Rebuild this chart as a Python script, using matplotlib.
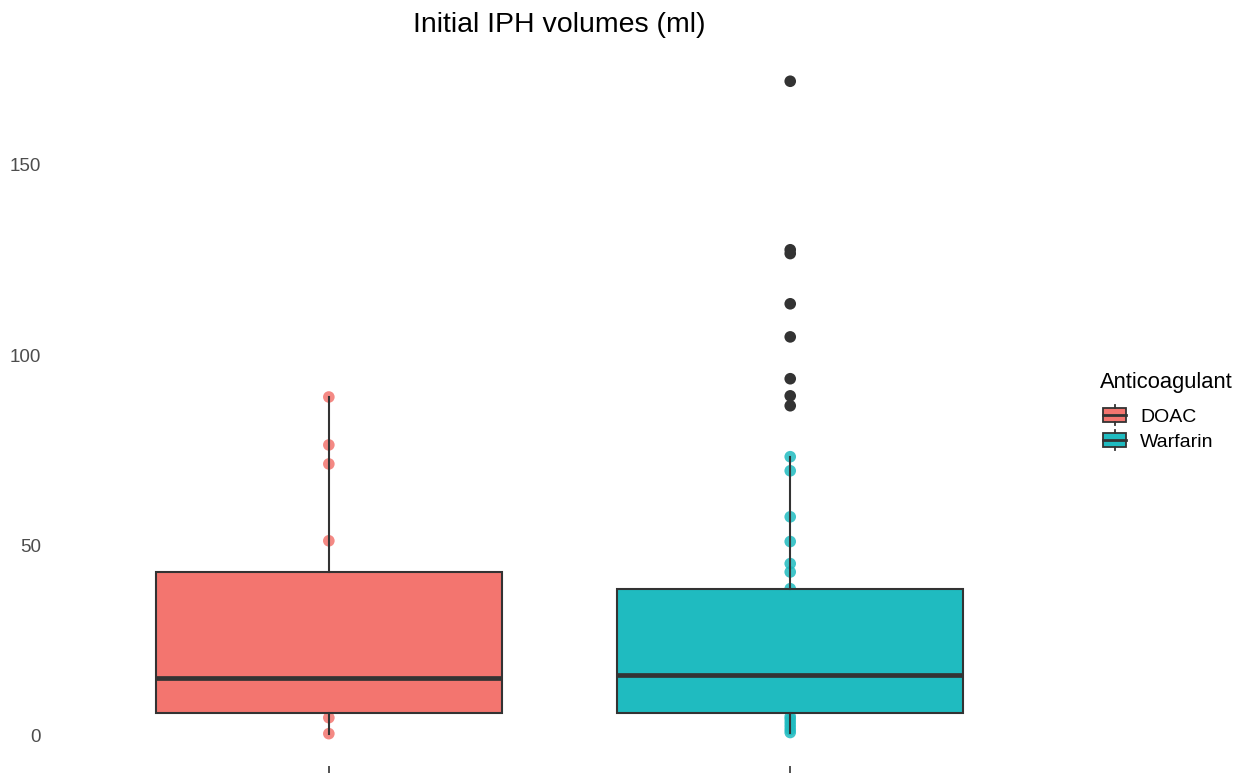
import matplotlib
matplotlib.use("Agg")
import matplotlib.pyplot as plt
from matplotlib.patches import Rectangle
from matplotlib.lines import Line2D
from matplotlib.legend_handler import HandlerBase

# данные
groups = ["DOAC", "Warfarin"]
colors = ["#F3756F", "#1FBBC0"]

doac_points = [0.5, 4.7, 51.2, 71.4, 76.4, 89.0]
warfarin_points = [0.8, 1.6, 2.5, 3.4, 4.3, 5.0, 38.6, 43.0, 45.2, 51.0, 57.5, 69.6, 73.3]
warfarin_outliers = [86.7, 89.3, 93.8, 104.8, 113.5, 126.7, 127.7, 172.0]

# статистика боксов: q1, медиана, q3, нижний и верхний ус
doac_box = dict(q1=6.0, med=15.0, q3=43.1, whislo=0.5, whishi=89.0)
warfarin_box = dict(q1=6.0, med=15.8, q3=38.4, whislo=0.8, whishi=73.3)

line_col = "#333333"


class BoxHandler(HandlerBase):
    # значок легенды в виде маленького бокса
    def create_artists(self, legend, orig_handle, xdescent, ydescent,
                       width, height, fontsize, trans):
        fc = orig_handle.get_facecolor()
        cx = width / 2 - xdescent
        w = width * 0.8
        h = height * 0.7
        y0 = (height - h) / 2 - ydescent
        rect = Rectangle((cx - w / 2, y0), w, h, facecolor=fc,
                         edgecolor=line_col, lw=1.3, transform=trans)
        med = Line2D([cx - w / 2, cx + w / 2], [y0 + h / 2] * 2,
                     color=line_col, lw=2.0, transform=trans)
        top = Line2D([cx, cx], [y0 + h, y0 + h + height * 0.15],
                     color=line_col, lw=1.3, transform=trans)
        bot = Line2D([cx, cx], [y0, y0 - height * 0.15],
                     color=line_col, lw=1.3, transform=trans)
        return [rect, med, top, bot]


def main():
    plt.rcParams['font.family'] = ['Liberation Sans', 'DejaVu Sans']

    fig = plt.figure(figsize=(12.47, 7.79), dpi=100)
    ax = fig.add_axes([0.0417, 0.0167, 0.814, 0.921])

    # сначала точки (под боксами)
    ax.scatter([1] * len(doac_points), doac_points, s=70, color=colors[0],
               alpha=0.85, edgecolors='none', zorder=1)
    ax.scatter([2] * len(warfarin_points), warfarin_points, s=70, color=colors[1],
               alpha=0.85, edgecolors='none', zorder=1)

    stats = [doac_box, warfarin_box]
    bp = ax.bxp(stats, positions=[1, 2], widths=0.75, patch_artist=True,
                showfliers=False, showcaps=False,
                boxprops=dict(edgecolor=line_col, linewidth=1.5),
                whiskerprops=dict(color=line_col, linewidth=1.5),
                medianprops=dict(color=line_col, linewidth=3.4),
                zorder=2)
    for patch, c in zip(bp['boxes'], colors):
        patch.set_facecolor(c)

    # выбросы
    ax.scatter([2] * len(warfarin_outliers), warfarin_outliers, s=70,
               color=line_col, edgecolors='none', zorder=3)

    ax.set_xlim(0.4, 2.6)
    ax.set_ylim(-8, 180.6)
    ax.set_yticks([0, 50, 100, 150])
    ax.set_xticks([1, 2])
    ax.set_xticklabels(["", ""])
    ax.tick_params(axis='y', length=0, labelsize=13.5, labelcolor='#4D4D4D', pad=8)
    ax.tick_params(axis='x', length=5, width=1.2, color=line_col)
    for s in ax.spines.values():
        s.set_visible(False)

    ax.set_title("Initial IPH volumes (ml)", fontsize=20.5, pad=12)

    handles = [Rectangle((0, 0), 1, 1, facecolor=c) for c in colors]
    leg = fig.legend(handles, groups, title="Anticoagulant",
                     handler_map={Rectangle: BoxHandler()},
                     loc='center left', bbox_to_anchor=(0.876, 0.472),
                     frameon=False, fontsize=14, title_fontsize=15.8,
                     handlelength=1.5, handleheight=1.2,
                     handletextpad=0.55, labelspacing=0.25, borderaxespad=0)
    leg._legend_box.align = "left"
    leg._legend_box.sep = 9

    fig.savefig("out.png", dpi=100)


if __name__ == "__main__":
    main()
